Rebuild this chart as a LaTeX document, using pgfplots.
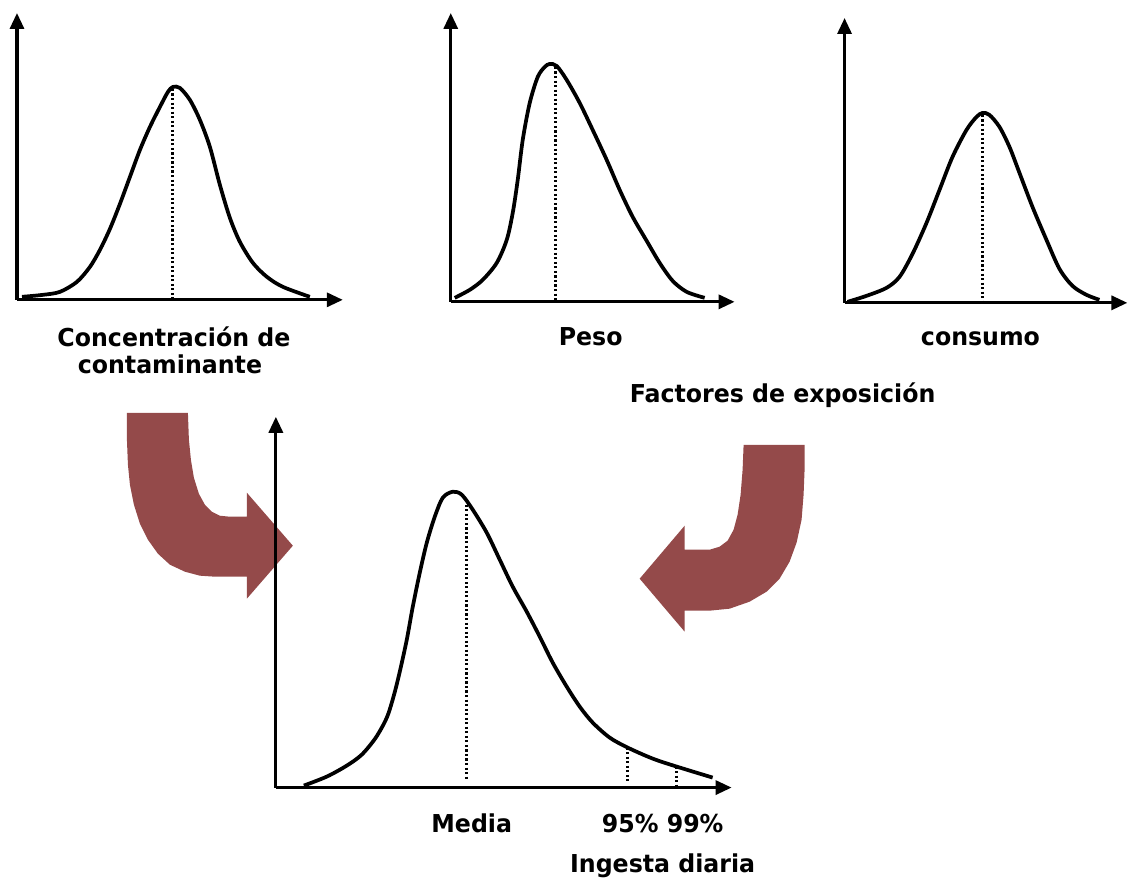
\documentclass[border=0pt]{standalone}
\usepackage{pgfplots}
\pgfplotsset{compat=1.18}
\usetikzlibrary{arrows.meta}
\usepackage{fontspec}
\setmainfont{DejaVu Sans}[FakeStretch=0.96]
\definecolor{flecha}{RGB}{148,74,74}

% all coordinates are in pixels of the reference (y measured from the bottom)
\pgfplotsset{
  diag/.style={
    scale only axis, axis lines=left, ticks=none, anchor=south west, clip=false,
    axis line style={line width=2.4pt, -{Triangle[length=12pt,width=10.5pt]}},
  },
  curva/.style={black, line width=2.8pt, smooth, tension=0.5, no marks},
  media/.style={black, line width=2.2pt, dash pattern=on 1.6pt off 1.8pt, no marks},
}
\tikzset{rotulo/.style={anchor=base, font=\bfseries\fontsize{18.5}{21}\selectfont}}

\begin{document}
\begin{tikzpicture}
\begin{axis}[hide axis, scale only axis, clip=false, at={(0,0)}, anchor=south west,
  width=846.75pt, height=663pt, xmin=0, xmax=1129, ymin=0, ymax=884]
\addplot[draw=none] coordinates {(0,0) (1129,884)};
% flecha izquierda
\addplot[fill=flecha, draw=none] coordinates {
  (127,471) (188,471) (189,444) (191,424) (194,406) (199,390) (205,379) (212,372)
  (220,368) (230,367) (247,367)
  (247,391) (293,338) (247,285) (247,307)
  (215,307) (200,308) (185,312) (170,319) (158,330) (148,344) (140,360) (134,379)
  (130,399) (128,419) (127,444) (127,471)} -- cycle;
% flecha derecha
\addplot[fill=flecha, draw=none] coordinates {
  (744,439) (805,439) (805,414) (804,389) (802,364) (797,341) (790,322) (780,305)
  (767,292) (750,282) (730,275) (710,273) (685,273)
  (685,252) (640,305) (685,358) (685,334)
  (710,334) (720,337) (728,343) (734,354) (738,369) (741,389) (743,414) (744,439)} -- cycle;
\node[rotulo] at (axis cs:174,537) {Concentración de};
\node[rotulo] at (axis cs:170,510) {contaminante};
\node[rotulo] at (axis cs:591,538) {Peso};
\node[rotulo] at (axis cs:981,538) {consumo};
\node[rotulo] at (axis cs:783,481) {Factores de exposición};
\node[rotulo] at (axis cs:472,51) {Media};
\node[rotulo] at (axis cs:663,51) {95\% 99\%};
\node[rotulo] at (axis cs:663,11) {Ingesta diaria};
\end{axis}

% Concentracion de contaminante
\begin{axis}[diag, at={(12.75pt,438pt)}, width=244.5pt, height=215.25pt,
  xmin=17, xmax=343, ymin=584, ymax=871]
\addplot[curva] coordinates {
  (22,587) (43,589) (60,592) (77,602) (90,617) (100,634) (110,655) (120,680)
  (130,707) (140,734) (150,757) (160,777) (168,792) (173,797) (180,796) (190,784)
  (200,764) (210,737) (220,699) (230,666) (240,642) (253,621) (267,607) (283,597)
  (310,587)};
\addplot[media] coordinates {(173,795) (173,584)};
\end{axis}

% Peso
\begin{axis}[diag, at={(338.25pt,436.5pt)}, width=213pt, height=216.75pt,
  xmin=451, xmax=735, ymin=582, ymax=871]
\addplot[curva] coordinates {
  (455,586) (470,594) (483,604) (497,621) (507,644) (513,671) (518,704) (523,744)
  (530,781) (538,807) (545,817) (550,820) (557,818) (567,804) (580,781) (593,754)
  (607,724) (620,694) (633,667) (647,643) (660,621) (673,603) (687,592) (705,586)};
\addplot[media] coordinates {(556,817) (556,582)};
\end{axis}

% consumo
\begin{axis}[diag, at={(633.75pt,435.75pt)}, width=212.25pt, height=213.75pt,
  xmin=845, xmax=1128, ymin=581, ymax=866]
\addplot[curva] coordinates {
  (848,582) (867,588) (887,596) (900,607) (913,630) (927,661) (940,694) (953,727)
  (967,754) (977,767) (983,771) (990,769) (1000,757) (1010,737) (1020,711)
  (1033,677) (1047,644) (1060,615) (1073,598) (1087,589) (1100,584)};
\addplot[media] coordinates {(983,769) (983,581)};
\end{axis}

% Ingesta diaria
\begin{axis}[diag, at={(207pt,72pt)}, width=342pt, height=278.25pt,
  xmin=276, xmax=732, ymin=96, ymax=467]
\addplot[curva] coordinates {
  (304,98) (327,107) (347,118) (362,129) (376,146) (387,166) (394,188) (400,212)
  (407,244) (413,277) (420,311) (427,341) (435,367) (443,386) (453,392) (462,389)
  (473,374) (487,351) (500,324) (513,297) (527,272) (540,247) (553,221) (567,197)
  (580,177) (593,161) (610,146) (628,136) (653,125) (677,117) (713,106)};
\addplot[media] coordinates {(467,379) (467,104)};
\addplot[media] coordinates {(628,136) (628,101)};
\addplot[media] coordinates {(677,117) (677,96)};
\end{axis}
\end{tikzpicture}
\end{document}
